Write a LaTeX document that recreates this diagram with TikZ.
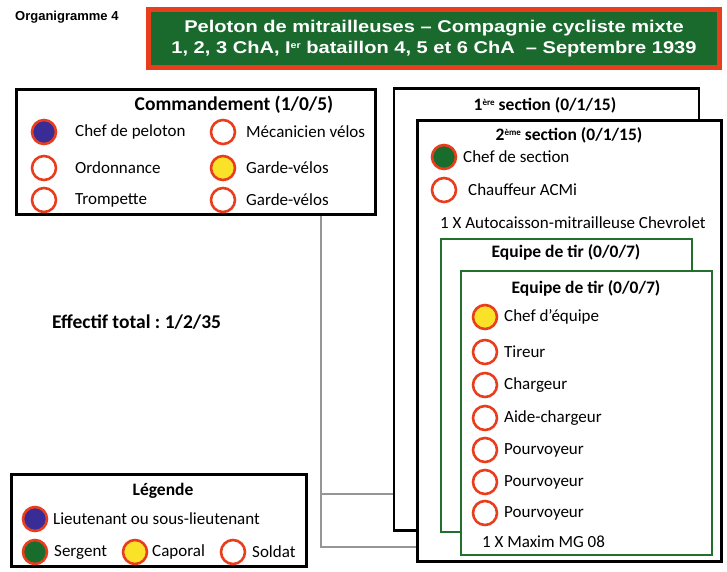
\documentclass[tikz,border=0pt]{standalone}
\usepackage{fontspec}
\setmainfont{Carlito}
\newfontfamily\titlefont[FakeStretch=1.18]{Liberation Sans}
\newfontfamily\headfont{Liberation Sans}
\newcommand\exposant[1]{\raisebox{0.6ex}{\fontsize{9}{9}\selectfont #1}}
\frenchspacing
\definecolor{persred}{RGB}{232,62,30}
\definecolor{lieutblue}{RGB}{58,44,150}
\definecolor{sergreen}{RGB}{24,108,44}
\definecolor{capyellow}{RGB}{250,226,40}
\definecolor{titlegreen}{RGB}{26,106,46}
\definecolor{teamgreen}{RGB}{34,112,44}
\definecolor{linkgray}{RGB}{150,150,150}
\tikzset{
  person/.style={circle,draw=persred,line width=2.6pt,minimum size=24pt,inner sep=0pt,fill=white},
  lieut/.style={person,fill=lieutblue},
  serg/.style={person,fill=sergreen},
  capo/.style={person,fill=capyellow},
  lbl/.style={anchor=west,inner sep=0pt,font=\fontsize{17}{20}\selectfont},
  head/.style={inner sep=0pt,font=\bfseries\fontsize{17.5}{20}\selectfont},
  unitbox/.style={draw=black,line width=2.6pt,fill=white,inner sep=0pt},
  teambox/.style={draw=teamgreen,line width=2pt,fill=white,inner sep=0pt},
  link/.style={draw=linkgray,line width=1.8pt}
}
\begin{document}
\begin{tikzpicture}[x=1pt,y=-1pt]
\useasboundingbox[fill=white] (0,0) rectangle (727,571);

\node[anchor=west,inner sep=0pt,font=\headfont\bfseries\fontsize{13}{16}\selectfont] (orga) at (15,17) {Organigramme 4};
\node[draw=persred,line width=5pt,fill=titlegreen,minimum width=571pt,minimum height=58pt,
  text=white,align=center,font=\titlefont\bfseries\fontsize{17}{21.5}\selectfont] (title) at (434,38.5)
  {Peloton de mitrailleuses – Compagnie cycliste mixte\\1, 2, 3 ChA, I\exposant{er} bataillon 4, 5 et 6 ChA \ – Septembre 1939};

% commandement
\node[unitbox,minimum width=359pt,minimum height=125pt] (cmd) at (196,152) {};
\node[head,font=\bfseries\fontsize{19.5}{22}\selectfont] (cmdtitle) at (234,105) {Commandement (1/0/5)};
\node[lieut] (c1) at (44,132) {};
\node[lbl] (c1l) at (75,132) {Chef de peloton};
\node[person] (c2) at (44,168) {};
\node[lbl] (c2l) at (75,168) {Ordonnance};
\node[person] (c3) at (44,200) {};
\node[lbl] (c3l) at (75,200) {Trompette};
\node[person] (c4) at (223,132) {};
\node[lbl] (c4l) at (246,132) {Mécanicien vélos};
\node[capo] (c5) at (223,168) {};
\node[lbl] (c5l) at (246,168) {Garde-vélos};
\node[person] (c6) at (223,200) {};
\node[lbl] (c6l) at (246,200) {Garde-vélos};

\node[anchor=west,inner sep=0pt,font=\bfseries\fontsize{19.5}{22}\selectfont] (total) at (52,322) {Effectif total : 1/2/35};

% sections
\node[unitbox,minimum width=305pt,minimum height=442pt] (sec1) at (546.5,309.5) {};
\node[head] (sec1title) at (545,105) {1\exposant{ère} section (0/1/15)};
\node[unitbox,minimum width=304pt,minimum height=441pt] (sec2) at (569.5,341) {};
\node[head] (sec2title) at (569,135) {2\exposant{ème} section (0/1/15)};
\node[serg] (s1) at (444,157) {};
\node[lbl] (s1l) at (463,157) {Chef de section};
\node[person] (s2) at (444,190) {};
\node[lbl] (s2l) at (468,190) {Chauffeur ACMi};
\node[lbl] (acmi) at (440,223) {1 X Autocaisson-mitrailleuse Chevrolet};

\node[teambox,minimum width=251pt,minimum height=293pt] (team1) at (566.5,385.5) {};
\node[head] (team1title) at (566,252) {Equipe de tir (0/0/7)};
\node[teambox,minimum width=251pt,minimum height=284pt] (team2) at (586.5,413) {};
\node[head] (team2title) at (586,288) {Equipe de tir (0/0/7)};
\node[capo] (t1) at (485,317) {};
\node[lbl] (t1l) at (504,317) {Chef d'équipe};
\node[person] (t2) at (485,352) {};
\node[lbl] (t2l) at (504,352) {Tireur};
\node[person] (t3) at (485,385) {};
\node[lbl] (t3l) at (504,385) {Chargeur};
\node[person] (t4) at (485,418) {};
\node[lbl] (t4l) at (504,418) {Aide-chargeur};
\node[person] (t5) at (485,450) {};
\node[lbl] (t5l) at (504,450) {Pourvoyeur};
\node[person] (t6) at (485,482) {};
\node[lbl] (t6l) at (504,482) {Pourvoyeur};
\node[person] (t7) at (485,513) {};
\node[lbl] (t7l) at (504,513) {Pourvoyeur};
\node[lbl] (mg) at (482,542) {1 X Maxim MG 08};

\coordinate (j1) at (321,494);
\coordinate (j2) at (321,547);
\draw[link] (cmd.south -| j1) -- (j2) -- (j2 -| sec2.west);
\draw[link] (j1) -- (j1 -| sec1.west);

% legende
\node[unitbox,minimum width=295pt,minimum height=92pt] (leg) at (159,520.5) {};
\node[head] (legtitle) at (163,491) {Légende};
\node[lieut] (g1) at (35,519) {};
\node[lbl] (g1l) at (53,519) {Lieutenant ou sous-lieutenant};
\node[serg] (g2) at (35,552) {};
\node[lbl] (g2l) at (54,552) {Sergent};
\node[capo] (g3) at (135,552) {};
\node[lbl] (g3l) at (152,552) {Caporal};
\node[person] (g4) at (233,552) {};
\node[lbl] (g4l) at (252,552) {Soldat};
\end{tikzpicture}
\end{document}
